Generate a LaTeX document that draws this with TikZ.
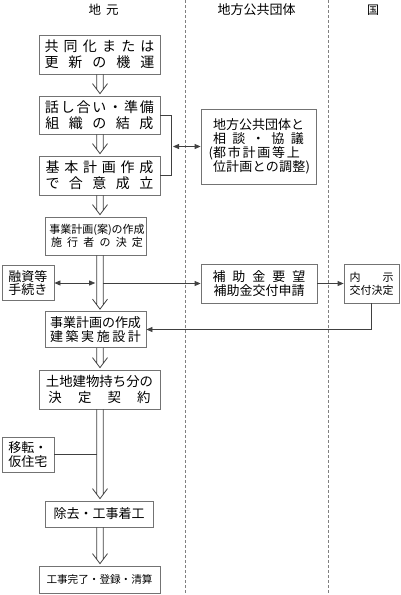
\documentclass[tikz,border=0pt]{standalone}
\usepackage{fontspec}
\setmainfont{Noto Sans CJK JP}
\usetikzlibrary{arrows.meta,calc}
\def\mygobble#1{}
\def\sprx#1{#1\futurelet\sprnext\spry}
\def\spry{\ifx\sprnext\relax\expandafter\mygobble\else\hfill\expandafter\sprx\fi}
\newcommand\spr[2]{\makebox[#1pt][s]{\sprx#2\relax}}
\newcommand\fs[2]{\fontsize{#1}{#2}\selectfont}
\tikzset{
  box/.style={draw=black!55, line width=0.8pt, inner sep=0pt, align=center, fill=white},
  conn/.style={draw=black!75, line width=0.8pt},
  tip/.style={-{Triangle[length=6pt,width=5pt]}},
  tips/.style={{Triangle[length=6pt,width=5pt]}-{Triangle[length=6pt,width=5pt]}},
  dashsep/.style={draw=black!50, line width=0.8pt, dash pattern=on 3pt off 2pt},
}
\newcommand\darr[2]{%
  \draw[conn] ($(colx |- #1.south)+(-3.3,0)$) -- ($(colx |- #2.north)+(-3.3,-6.4)$)
    ($(colx |- #1.south)+(3.3,0)$) -- ($(colx |- #2.north)+(3.3,-6.4)$)
    ($(colx |- #2.north)+(-7.5,-12)$) -- ($(colx |- #2.north)+(0,-2)$) -- ($(colx |- #2.north)+(7.5,-12)$);}
\begin{document}
\begin{tikzpicture}[x=1pt,y=-1pt]
\path[use as bounding box] (0,0) rectangle (400,595);
\draw[dashsep] (185,0) -- (185,595);
\draw[dashsep] (328,0) -- (328,595);
\coordinate (colx) at (100,0);
\coordinate (colL) at (96.7,0);
\coordinate (colR) at (103.3,0);
% headers
\node[font=\fs{12.5}{14}] (h1) at (103.5,10) {地\hspace{5pt}元};
\node[font=\fs{13}{15}] (h2) at (256.5,10) {地方公共団体};
\node[font=\fs{12}{14}] (h3) at (373,10) {国};
% boxes
\node[box, minimum width=121pt, minimum height=39pt, font=\fs{14}{16}] (b1) at (99.5,54.5)
  {\spr{110}{共同化または}\\\spr{110}{更新の機運}};
\node[box, minimum width=121pt, minimum height=38pt, font=\fs{14}{16}] (b2) at (99.5,115)
  {\spr{109}{話し合い・準備}\\\spr{108}{組織の結成}};
\node[box, minimum width=121pt, minimum height=39pt, font=\fs{14}{16}] (b3) at (99.5,175.5)
  {\spr{108}{基本計画作成}\\\spr{108}{で合意成立}};
\node[box, minimum width=115pt, minimum height=75pt, text width=95pt, align=left, font=\fs{13}{14}] (b4) at (258.5,146.5)
  {\hspace*{2pt}地方公共団体と\\\hspace*{2pt}\spr{91}{相談・協議}\\\hspace*{2pt}\llap{(}\spr{87}{都市計画等上}\\\hspace*{2pt}\spr{97}{位計画との調整)}};
\node[box, minimum width=101pt, minimum height=38pt, font=\fs{11}{13}] (b5) at (95.5,236)
  {\hspace*{3pt}事業計画(案)の作成\\\hspace*{3pt}\spr{92}{施行者の決定}};
\node[box, minimum width=52pt, minimum height=35pt, font=\fs{13}{13.5}] (b6) at (28,283)
  {融資等\\手続き};
\node[box, minimum width=101pt, minimum height=36pt, font=\fs{13}{14}] (b7) at (95.5,329.5)
  {事業計画の作成\\\spr{91}{建築実施設計}};
\node[box, minimum width=116pt, minimum height=39pt, font=\fs{13}{14}] (b8) at (259,283.5)
  {\spr{93}{補助金要望}\\補助金交付申請};
\node[box, minimum width=55pt, minimum height=39pt, font=\fs{11}{13}] (b9) at (371.5,283.5)
  {\spr{44}{内示}\\交付決定};
\node[box, minimum width=121pt, minimum height=39pt, font=\fs{13.4}{16}] (b10) at (99.5,389.5)
  {土地建物持ち分の\\\spr{102}{決定契約}};
\node[box, minimum width=52pt, minimum height=35pt, font=\fs{13}{14}] (b11) at (28,454.5)
  {移転・\\仮住宅};
\node[box, minimum width=108pt, minimum height=26pt, font=\fs{13}{14}] (b12) at (99,514)
  {除去・工事着工};
\node[box, minimum width=121pt, minimum height=27pt, font=\fs{10.6}{13}] (b13) at (99.5,579.5)
  {工事完了・登録・清算};
% double arrows
\darr{b1}{b2}
\darr{b2}{b3}
\darr{b3}{b5}
\darr{b5}{b7}
\darr{b7}{b10}
\darr{b10}{b12}
\darr{b12}{b13}
% connectors
\draw[conn] (b2.east) -- ++(11,0) |- (b3.east);
\coordinate (br) at (173,146.5);
\draw[conn, tips] (br) -- (b4.west);
\draw[conn, tips] (b6.east) -- ($(colL |- b6.east)+(-1.5,0)$);
\draw[conn, tip] (colR |- b8.west) -- (b8.west);
\draw[conn, tip] (b8.east) -- (b9.west);
\draw[conn, tip] (b9.south) |- (b7.east);
\draw[conn] (b11.east) -- (colL |- b11.east);
\end{tikzpicture}
\end{document}
